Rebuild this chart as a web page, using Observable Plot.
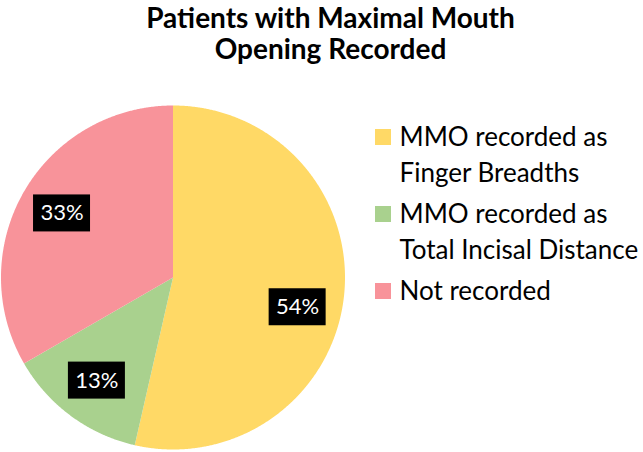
<!DOCTYPE html>
<html><head><meta charset="utf-8">
<script src="https://cdn.jsdelivr.net/npm/d3@7"></script>
<script src="https://cdn.jsdelivr.net/npm/@observablehq/plot@0.6"></script>
<style>body{margin:0;background:#fff}</style></head>
<body><div id="chart"></div>
<script>
const titleLines = ["Patients with Maximal Mouth", "Opening Recorded"];
const categories = ["MMO recorded as Finger Breadths", "MMO recorded as Total Incisal Distance", "Not recorded"];
const legendLines = [["MMO recorded as", "Finger Breadths"], ["MMO recorded as", "Total Incisal Distance"], ["Not recorded"]];
const counts = [45, 11, 28];
const colors = ["#FFD966", "#A9D18E", "#F8939A"];

const W = 643, H = 452, cx = 172.5, cy = 277, R = 172;
const FONT = "Lato, 'Open Sans', sans-serif";
const total = d3.sum(counts);
const arcs = d3.pie().sort(null).value(d => d)(counts);

const slicePts = [];
arcs.forEach((p, i) => {
  slicePts.push({i, x: cx, y: cy});
  const n = Math.max(2, Math.ceil((p.endAngle - p.startAngle) / 0.005));
  for (let k = 0; k <= n; k++) {
    const a = p.startAngle + (p.endAngle - p.startAngle) * k / n;
    slicePts.push({i, x: cx + R * Math.sin(a), y: cy - R * Math.cos(a)});
  }
});

const labelShift = [7 * Math.PI / 180, 0, 0];
const labels = arcs.map((p, i) => {
  const a = (p.startAngle + p.endAngle) / 2 + labelShift[i];
  const r = R * 0.745;
  return {x: cx + r * Math.sin(a), y: cy - r * Math.cos(a), t: Math.round(counts[i] / total * 100) + "%"};
});

const legendItems = [];
const legendTexts = [];
let line = 0;
legendLines.forEach((ls, i) => {
  const y0 = 137 + 36 * line + 5 * i;
  legendItems.push({i, y: y0, c: colors[i]});
  ls.forEach((t, j) => legendTexts.push({t, y: y0 + 36 * j}));
  line += ls.length;
});

const chart = Plot.plot({
  width: W, height: H, margin: 0,
  x: {type: "identity", axis: null},
  y: {type: "identity", axis: null},
  color: {type: "identity"},
  style: {fontFamily: FONT, background: "#fff"},
  marks: [
    Plot.line(slicePts, {x: "x", y: "y", z: "i", fill: d => colors[d.i], stroke: "none"}),
    Plot.rect(labels, {x1: d => d.x - 28.5, x2: d => d.x + 28.5, y1: d => d.y - 18.5, y2: d => d.y + 18.5, fill: "#000"}),
    Plot.text(labels, {x: "x", y: "y", text: "t", fill: "#fff", fontSize: 22, fontFamily: FONT}),
    Plot.rect(legendItems, {x1: () => 375, x2: () => 391, y1: d => d.y - 8, y2: d => d.y + 8, fill: "c"}),
    Plot.text(legendTexts, {x: () => 399, y: "y", text: "t", textAnchor: "start", fontSize: 26, fill: "#000", fontFamily: FONT}),
    Plot.text(titleLines, {x: () => 330, y: (d, i) => 19 + 31 * i, text: d => d, fontSize: 28, fontWeight: "bold", fill: "#000", fontFamily: FONT})
  ]
});
document.getElementById("chart").appendChild(chart);
</script></body></html>
